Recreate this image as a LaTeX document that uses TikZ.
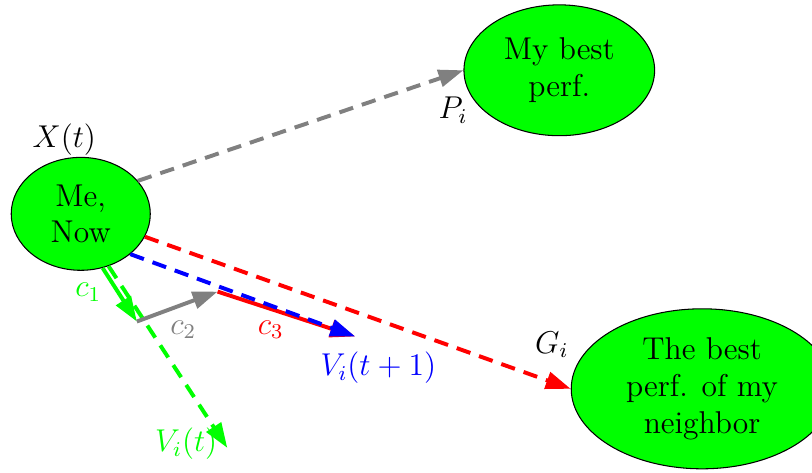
\documentclass[tikz,border=0pt]{standalone}
\usetikzlibrary{shapes.geometric,arrows.meta}
\begin{document}
\begin{tikzpicture}[
  bubble/.style={ellipse,draw=black,fill=green,font=\large,align=center,inner sep=0pt},
  vec/.style={line width=1.5pt,-{Triangle[length=9.5pt,width=6.5pt]}},
  dvec/.style={vec,dash pattern=on 5.5pt off 3.5pt},
  lbl/.style={font=\large}
]
\useasboundingbox (0,0) rectangle (10.86,6.32);

\node[bubble,minimum width=1.86cm,minimum height=1.51cm] (me) at (1.08,3.46) {Me,\\Now};
\node[bubble,minimum width=2.55cm,minimum height=1.75cm] (pbest) at (7.48,5.38) {My best\\perf.};
\node[bubble,minimum width=3.5cm,minimum height=2.14cm] (gbest) at (9.39,1.12) {The best\\perf. of my\\neighbor};

\coordinate (c1end) at (1.83,2.02);
\coordinate (c2end) at (2.91,2.42);
\coordinate (vnew) at (4.75,1.82);
\coordinate (vold) at (3.04,0.33);

\draw[dvec,gray] (me.30) -- (pbest.west);
\draw[dvec,red] (me) -- (gbest.west);
\draw[dvec,green] (me.-62) -- (vold);
\draw[vec,green] (me.-68) -- (c1end);
\draw[vec,gray] (c1end) -- (c2end);
\draw[vec,red] (c2end) -- (vnew);
\draw[dvec,blue] (me.south east) -- (vnew);

\node[lbl] (xt) at (0.86,4.45) {$X(t)$};
\node[lbl] (pi) at (6.06,4.85) {$P_i$};
\node[lbl] (gi) at (7.38,1.71) {$G_i$};
\node[lbl,text=green] (c1) at (1.18,2.41) {$c_1$};
\node[lbl,text=gray] (c2) at (2.45,1.91) {$c_2$};
\node[lbl,text=red] (c3) at (3.62,1.91) {$c_3$};
\node[lbl,text=blue] (vt1) at (5.06,1.40) {$V_i(t+1)$};
\node[lbl,text=green] (vt) at (2.49,0.39) {$V_i(t)$};

\end{tikzpicture}
\end{document}
